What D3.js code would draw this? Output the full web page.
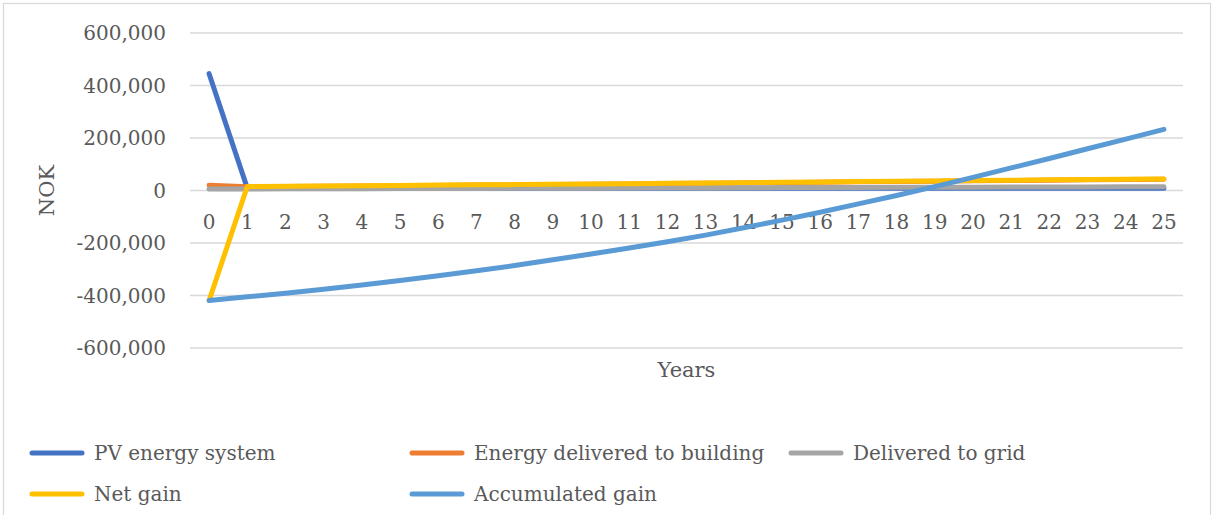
<!DOCTYPE html>
<html>
<head>
<meta charset="utf-8">
<script src="https://cdn.jsdelivr.net/npm/d3@7"></script>
<style>
  html, body { margin: 0; padding: 0; background: #fff; }
  svg { display: block; }
  text { font-family: "DejaVu Serif", "Liberation Serif", serif; fill: #595959; }
</style>
</head>
<body>
<svg id="chart" width="1213" height="515"></svg>
<script>
// Years of operation
const years = d3.range(0, 26);

// Cash flows per year, NOK
const pvEnergySystem = [445000, 9000, 9000, 9000, 9000, 9000, 9000, 9000, 9000, 9000, 9000, 9000, 9000, 9000, 9000, 9000, 9000, 9000, 9000, 9000, 9000, 9000, 9000, 9000, 9000, 9000];
const energyToBuilding = [20000, 14000, 15000, 16000, 17000, 18000, 19500, 20500, 21500, 23000, 24000, 25000, 26500, 27500, 29000, 30000, 31500, 33000, 34000, 35500, 37000, 38000, 39500, 40500, 41500, 42500];
const deliveredToGrid = [6000, 6000, 6500, 7000, 7000, 7500, 8000, 8000, 8500, 9000, 9000, 9500, 10000, 10000, 10500, 11000, 11000, 11500, 12000, 12000, 12500, 13000, 13000, 13500, 14000, 14500];
const netGain = [-419000, 15000, 16000, 17000, 18000, 19000, 20500, 21500, 22500, 24000, 25000, 26000, 27500, 28500, 30000, 31000, 32500, 34000, 35000, 36500, 38000, 39000, 40500, 42000, 43000, 44000];
const accumulatedGain = [-419000, -405000, -391000, -376000, -360000, -343000, -325000, -306000, -286000, -264000, -242000, -219000, -195000, -170000, -142000, -113000, -83000, -51000, -19000, 15000, 50000, 86000, 122000, 159000, 196000, 233000];

const yTicks = [-600000, -400000, -200000, 0, 200000, 400000, 600000];

const seriesNames = ["PV energy system", "Energy delivered to building", "Delivered to grid", "Net gain", "Accumulated gain"];
const seriesColors = ["#4472C4", "#ED7D31", "#A5A5A5", "#FFC000", "#5B9BD5"];
const seriesValues = [pvEnergySystem, energyToBuilding, deliveredToGrid, netGain, accumulatedGain];

const svg = d3.select("#chart");

// Chart frame
svg.append("rect")
  .attr("x", 3.5).attr("y", 3.5)
  .attr("width", 1207).attr("height", 520)
  .attr("fill", "#fff")
  .attr("stroke", "#D9D9D9").attr("stroke-width", 1.3);

const plot = { left: 190, right: 1183, top: 33, bottom: 348 };

const x = d3.scalePoint()
  .domain(years)
  .range([plot.left, plot.right])
  .padding(0.5);

const y = d3.scaleLinear()
  .domain([-600000, 600000])
  .range([plot.bottom, plot.top]);

// Horizontal gridlines
svg.append("g")
  .selectAll("line")
  .data(yTicks)
  .join("line")
  .attr("x1", plot.left).attr("x2", plot.right)
  .attr("y1", d => y(d)).attr("y2", d => y(d))
  .attr("stroke", "#D9D9D9").attr("stroke-width", 1.5);

// Value axis labels (plain hyphen for negatives)
const fmt = d3.format(",");
svg.append("g")
  .selectAll("text")
  .data(yTicks)
  .join("text")
  .attr("x", 166)
  .attr("y", d => y(d))
  .attr("dy", "0.35em")
  .attr("text-anchor", "end")
  .attr("font-size", 20)
  .text(d => fmt(d).replace("\u2212", "-"));

// Category labels sit just below the zero line
svg.append("g")
  .selectAll("text")
  .data(years)
  .join("text")
  .attr("x", d => x(d))
  .attr("y", y(0) + 31)
  .attr("dy", "0.35em")
  .attr("text-anchor", "middle")
  .attr("font-size", 20)
  .text(d => d);

// Axis titles
svg.append("text")
  .attr("x", (plot.left + plot.right) / 2)
  .attr("y", 370)
  .attr("dy", "0.35em")
  .attr("text-anchor", "middle")
  .attr("font-size", 21)
  .text("Years");

svg.append("text")
  .attr("transform", `translate(47,${y(0)}) rotate(-90)`)
  .attr("dy", "0.35em")
  .attr("text-anchor", "middle")
  .attr("font-size", 21)
  .text("NOK");

// Series lines
const line = d3.line()
  .x((d, i) => x(years[i]))
  .y(d => y(d));

svg.append("g")
  .selectAll("path")
  .data(seriesValues)
  .join("path")
  .attr("d", d => line(d))
  .attr("fill", "none")
  .attr("stroke", (d, i) => seriesColors[i])
  .attr("stroke-width", 5)
  .attr("stroke-linecap", "round")
  .attr("stroke-linejoin", "round");

// Legend
const legendPos = [
  { x: 30, y: 453 }, { x: 410, y: 453 }, { x: 789, y: 453 },
  { x: 30, y: 494 }, { x: 410, y: 494 }
];
const legend = svg.append("g")
  .selectAll("g")
  .data(seriesNames)
  .join("g")
  .attr("transform", (d, i) => `translate(${legendPos[i].x},${legendPos[i].y})`);

legend.append("line")
  .attr("x1", 2).attr("x2", 52)
  .attr("y1", 0).attr("y2", 0)
  .attr("stroke", (d, i) => seriesColors[i])
  .attr("stroke-width", 5)
  .attr("stroke-linecap", "round");

legend.append("text")
  .attr("x", 64)
  .attr("y", 0)
  .attr("dy", "0.35em")
  .attr("font-size", 20)
  .text(d => d);
</script>
</body>
</html>
